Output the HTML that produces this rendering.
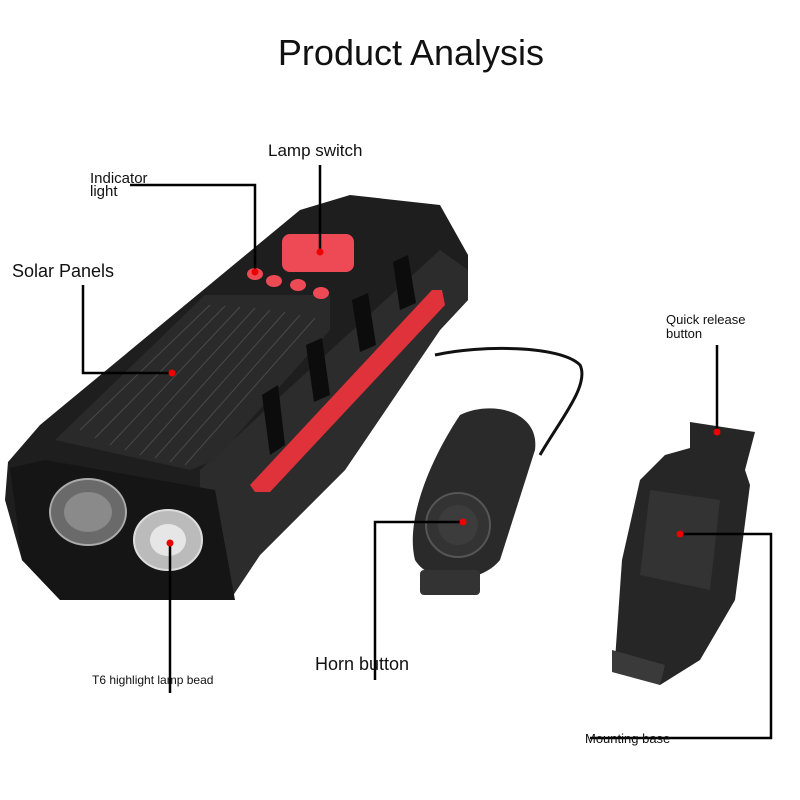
<!DOCTYPE html>
<html><head><style>
html,body{margin:0;padding:0;background:#fff;width:800px;height:800px;overflow:hidden}
svg{display:block}
text{font-family:"Liberation Sans",sans-serif;fill:#111}
</style></head><body>
<svg width="800" height="800" viewBox="0 0 800 800">
<text x="411" y="65" font-size="36" text-anchor="middle">Product Analysis</text>

<!-- lamp body -->
<polygon points="8,462 40,425 300,210 350,195 440,205 468,255 468,300 440,330 345,470 260,555 230,600 60,600 22,560 5,500" fill="#1e1e1e"/>
<polygon points="200,470 440,250 468,270 468,300 440,330 345,470 260,555 230,600 200,560" fill="#2c2c2c"/>
<!-- solar panel -->
<polygon points="55,440 205,295 330,295 330,330 215,460 190,470" fill="#2a2a2a"/>
<g stroke="#4a4a4a" stroke-width="1">
<line x1="80" y1="430" x2="210" y2="305"/><line x1="95" y1="438" x2="225" y2="306"/>
<line x1="110" y1="445" x2="240" y2="307"/><line x1="125" y1="450" x2="255" y2="308"/>
<line x1="140" y1="455" x2="270" y2="310"/><line x1="155" y1="458" x2="285" y2="312"/>
<line x1="170" y1="462" x2="300" y2="315"/><line x1="185" y1="465" x2="315" y2="318"/>
</g>
<!-- red stripe -->
<polygon points="250,485 432,290 442,290 445,305 270,492 255,492" fill="#e0323a"/>
<!-- vents -->
<g fill="#0c0c0c">
<polygon points="262,395 278,385 285,445 270,455"/>
<polygon points="306,345 322,338 330,395 314,402"/>
<polygon points="352,300 368,293 376,345 360,352"/>
<polygon points="393,262 408,255 416,303 400,310"/>
</g>
<!-- front face -->
<polygon points="10,468 45,460 215,490 235,600 60,600 22,560" fill="#151515"/>
<ellipse cx="88" cy="512" rx="38" ry="33" fill="#6a6a6a" stroke="#aaa" stroke-width="2"/>
<ellipse cx="88" cy="512" rx="24" ry="20" fill="#8a8a8a"/>
<ellipse cx="168" cy="540" rx="34" ry="30" fill="#bbb" stroke="#ddd" stroke-width="2"/>
<ellipse cx="168" cy="540" rx="18" ry="16" fill="#e6e6e6"/>
<!-- switch & indicators -->
<rect x="282" y="234" width="72" height="38" rx="8" fill="#ee4a55"/>
<ellipse cx="255" cy="274" rx="8" ry="6" fill="#ee4a55"/>
<ellipse cx="274" cy="281" rx="8" ry="6" fill="#ee4a55"/>
<ellipse cx="298" cy="285" rx="8" ry="6" fill="#ee4a55"/>
<ellipse cx="321" cy="293" rx="8" ry="6" fill="#ee4a55"/>

<!-- cable -->
<path d="M435,355 C480,345 560,345 580,365 C590,385 560,420 540,455" fill="none" stroke="#111" stroke-width="3"/>
<!-- horn -->
<path d="M460,415 C490,400 540,410 535,450 L500,560 C480,585 430,585 415,560 C405,520 430,460 460,415Z" fill="#2a2a2a"/>
<rect x="420" y="570" width="60" height="25" rx="4" fill="#333"/>
<circle cx="458" cy="525" r="32" fill="#333" stroke="#555" stroke-width="2"/>
<circle cx="458" cy="525" r="20" fill="#3c3c3c"/>
<!-- mounting base -->
<polygon points="690,422 755,432 745,470 750,485 735,600 700,660 660,685 615,660 622,560 640,480 665,455 690,448" fill="#262626"/>
<polygon points="612,650 665,665 660,685 612,672" fill="#3a3a3a"/>
<polygon points="650,490 720,500 710,590 640,575" fill="#333"/>

<!-- leader lines -->
<g stroke="#000" stroke-width="2.5" fill="none">
<polyline points="130,185 255,185 255,272"/>
<line x1="320" y1="165" x2="320" y2="252"/>
<polyline points="83,285 83,373 172,373"/>
<line x1="717" y1="345" x2="717" y2="432"/>
<polyline points="375,680 375,522 463,522"/>
<line x1="170" y1="540" x2="170" y2="693"/>
<polyline points="680,534 771,534 771,738 590,738"/>
</g>
<g fill="#e00">
<circle cx="255" cy="272" r="3.5"/><circle cx="320" cy="252" r="3.5"/>
<circle cx="172" cy="373" r="3.5"/><circle cx="717" cy="432" r="3.5"/>
<circle cx="463" cy="522" r="3.5"/><circle cx="170" cy="543" r="3.5"/>
<circle cx="680" cy="534" r="3.5"/>
</g>

<text x="90" y="183" font-size="15">Indicator</text>
<text x="90" y="196" font-size="15">light</text>
<text x="268" y="156" font-size="17">Lamp switch</text>
<text x="12" y="277" font-size="18">Solar Panels</text>
<text x="666" y="324" font-size="13">Quick release</text>
<text x="666" y="338" font-size="13">button</text>
<text x="315" y="670" font-size="18">Horn button</text>
<text x="92" y="684" font-size="12">T6 highlight lamp bead</text>
<text x="585" y="743" font-size="13">Mounting base</text>
</svg>
</body></html>
